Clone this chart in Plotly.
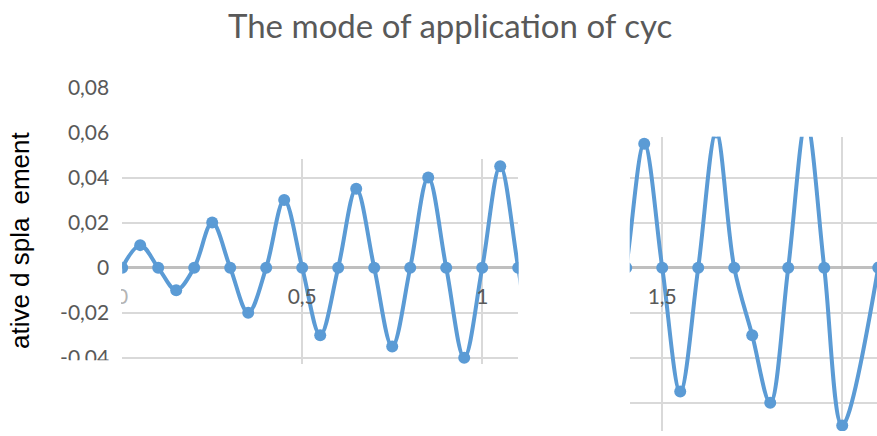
import plotly.graph_objects as go

# Loading history: time and relative displacement
time_s = [0.00, 0.05, 0.10, 0.15, 0.20, 0.25, 0.30, 0.35, 0.40, 0.45,
          0.50, 0.55, 0.60, 0.65, 0.70, 0.75, 0.80, 0.85, 0.90, 0.95,
          1.00, 1.05, 1.10, 1.15, 1.20, 1.25, 1.30, 1.35, 1.40, 1.45,
          1.50, 1.55, 1.60, 1.65, 1.70, 1.75, 1.80, 1.85, 1.90, 1.95,
          2.00, 2.10]
displacement = [0, 0.01, 0, -0.01, 0, 0.02, 0, -0.02, 0, 0.03,
                0, -0.03, 0, 0.035, 0, -0.035, 0, 0.04, 0, -0.04,
                0, 0.045, 0, -0.045, 0, 0.05, 0, -0.05, 0, 0.055,
                0, -0.055, 0, 0.06, 0, -0.03, -0.06, 0, 0.065, 0,
                -0.07, 0]

y_tick_vals = [-0.04, -0.02, 0, 0.02, 0.04, 0.06, 0.08]
y_tick_text = ["-0,04", "-0,02", "0", "0,02", "0,04", "0,06", "0,08"]
left_x_ticks = [0, 0.5, 1]
left_x_text = ["0", "0,5", "1"]
right_x_ticks = [1.5, 2.0]
right_x_text = ["1,5", ""]

title_text = "The mode of application of cyc"
y_title_text = "ative d spla\u2002ement"

# ---- page geometry (pixels) ----
W, H = 877, 436
X0_PX, PX_PER_X = 117, 362.5     # x = 0 position and scale
Y0_PX, PX_PER_Y = 270, 2290      # y = 0 position and scale


def xval(px):
    return (px - X0_PX) / PX_PER_X


def yval(py):
    return (Y0_PX - py) / PX_PER_Y


def fx(px):
    return px / W


def fy(py):
    return 1 - py / H


BLUE = "#5b9bd5"
GRID = "#d9d9d9"
ZERO = "#bfbfbf"
TXT = "#595959"
TICK_FONT = dict(family="Lato", size=21, color=TXT)

fig = go.Figure()

line_style = dict(color=BLUE, width=4, shape="spline", smoothing=1.0)
marker_style = dict(color=BLUE, size=12)

for xa, ya in (("x", "y"), ("x2", "y2")):
    fig.add_trace(go.Scatter(
        x=time_s, y=displacement, mode="lines+markers",
        line=line_style, marker=marker_style,
        xaxis=xa, yaxis=ya, showlegend=False, hoverinfo="x+y",
    ))

# empty trace holding the value-label axis
fig.add_trace(go.Scatter(x=[], y=[], xaxis="x3", yaxis="y3", showlegend=False))

common_x = dict(showgrid=True, gridcolor=GRID, gridwidth=1.5, zeroline=False,
                showline=False, ticks="", tickfont=TICK_FONT,
                anchor="free", position=fy(285), fixedrange=True)
common_y = dict(showgrid=True, gridcolor=GRID, gridwidth=1.5,
                zeroline=True, zerolinecolor=ZERO, zerolinewidth=2.5,
                showline=False, ticks="", showticklabels=False, fixedrange=True)

fig.update_layout(
    width=W, height=H,
    margin=dict(l=0, r=0, t=0, b=0),
    paper_bgcolor="white", plot_bgcolor="rgba(0,0,0,0)",
    separators=", ",
    title=dict(text=title_text, xref="container", yref="container",
               x=fx(228), xanchor="left", y=fy(26), yanchor="middle",
               font=dict(family="Lato", size=33, color=TXT)),
    xaxis=dict(domain=[fx(117), fx(516)], range=[xval(117), xval(516)],
               tickvals=left_x_ticks, ticktext=left_x_text, **common_x),
    yaxis=dict(domain=[fy(368), fy(160)], range=[yval(368), yval(160)],
               tickvals=[-0.04, -0.02, 0, 0.02, 0.04], anchor="x", **common_y),
    xaxis2=dict(domain=[fx(628), 1.0], range=[xval(628), xval(877)],
                tickvals=right_x_ticks, ticktext=right_x_text, **common_x),
    yaxis2=dict(domain=[0.0, fy(137)], range=[yval(436), yval(137)],
                tickvals=[-0.06, -0.04, -0.02, 0, 0.02, 0.04], anchor="x2", **common_y),
    xaxis3=dict(domain=[fx(116), fx(117)], range=[0, 1], visible=False, anchor="y3"),
    yaxis3=dict(domain=[fy(368), fy(75)], range=[yval(368), yval(75)],
                anchor="x3", showgrid=False, zeroline=False, showline=False,
                ticks="", tickvals=y_tick_vals, ticktext=y_tick_text,
                tickfont=TICK_FONT, ticklabelstandoff=11, fixedrange=True),
    annotations=[dict(text=y_title_text, textangle=-90, xref="paper", yref="paper",
                      x=fx(14), y=fy(242), xanchor="center", yanchor="middle",
                      showarrow=False,
                      font=dict(family="Liberation Sans", size=26, color="black"))],
    shapes=[
        # lower edge of the value-label column
        dict(type="rect", xref="paper", yref="paper", layer="above",
             x0=fx(40), x1=fx(115), y0=0, y1=fy(364),
             fillcolor="white", line=dict(width=0)),
        # faded origin label
        dict(type="rect", xref="paper", yref="paper", layer="above",
             x0=fx(100), x1=fx(116), y0=fy(308), y1=fy(283),
             fillcolor="white", line=dict(width=0)),
        dict(type="rect", xref="paper", yref="paper", layer="above",
             x0=fx(116), x1=fx(126), y0=fy(308), y1=fy(283),
             fillcolor="white", opacity=0.55, line=dict(width=0)),
    ],
)

fig.write_html("out.html")
